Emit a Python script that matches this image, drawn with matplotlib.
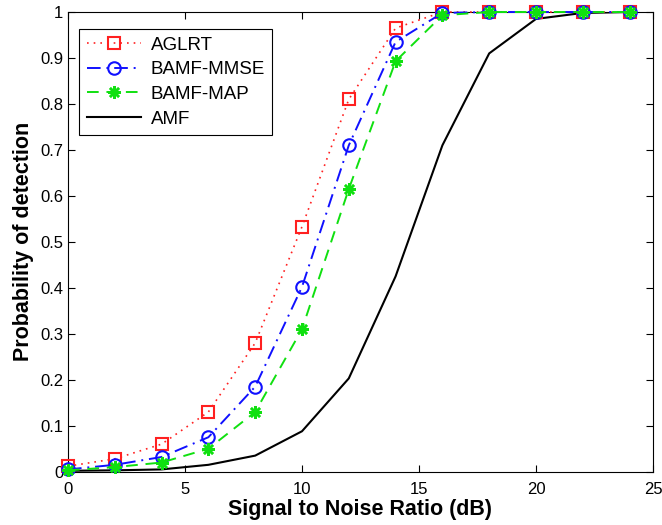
import matplotlib
matplotlib.use("Agg")
import matplotlib.pyplot as plt

snr = [0, 2, 4, 6, 8, 10, 12, 14, 16, 18, 20, 22, 24]
aglrt = [0.012, 0.028, 0.060, 0.130, 0.280, 0.533, 0.810, 0.965, 1.0, 1.0, 1.0, 1.0, 1.0]
mmse = [0.005, 0.015, 0.032, 0.075, 0.185, 0.402, 0.710, 0.935, 0.998, 1.0, 1.0, 1.0, 1.0]
mapv = [0.003, 0.010, 0.020, 0.050, 0.130, 0.310, 0.615, 0.893, 0.993, 1.0, 1.0, 1.0, 1.0]
amf = [0.002, 0.003, 0.005, 0.015, 0.035, 0.088, 0.203, 0.425, 0.710, 0.910, 0.985, 0.998, 1.0]

plt.rcParams['font.family'] = ['Liberation Sans', 'DejaVu Sans']
fig = plt.figure(figsize=(6.62, 5.25), dpi=100)
ax = fig.add_axes([0.1027, 0.1015, 0.8837, 0.8756])

ax.plot(snr, aglrt, color='#ff2020', linestyle=(0, (1, 3)), lw=1.2, marker='s', ms=8,
        mfc='none', mec='#ff2020', mew=1.5, label='AGLRT', clip_on=False, zorder=3)
ax.plot(snr, mmse, color='#1010ff', linestyle=(0, (7, 3, 1, 3)), lw=1.4, marker='o', ms=9,
        mfc='none', mec='#1010ff', mew=1.5, label='BAMF-MMSE', clip_on=False, zorder=4)
ax.plot(snr, mapv, color='#10e010', linestyle=(0, (6, 4)), lw=1.4, marker=(8, 2, 0), ms=9,
        mfc='#10e010', mec='#10e010', mew=1.8, label='BAMF-MAP', clip_on=False, zorder=5)
ax.plot(snr, amf, color='black', lw=1.5, label='AMF', zorder=2)

ax.set_xlim(0, 25)
ax.set_ylim(0, 1)
ax.set_xticks([0, 5, 10, 15, 20, 25])
ax.set_yticks([0, 0.1, 0.2, 0.3, 0.4, 0.5, 0.6, 0.7, 0.8, 0.9, 1])
ax.set_yticklabels(['0', '0.1', '0.2', '0.3', '0.4', '0.5', '0.6', '0.7', '0.8', '0.9', '1'])
ax.tick_params(direction='in', top=True, right=True, labelsize=12, length=5)
ax.tick_params(axis='x', pad=7.5)
ax.set_xlabel('Signal to Noise Ratio (dB)', fontsize=15.5, fontweight='bold', labelpad=1)
ax.set_ylabel('Probability of detection', fontsize=15.5, fontweight='bold', labelpad=4)

leg = ax.legend(loc='upper left', bbox_to_anchor=(0.0193, 0.963), fontsize=13.5, fancybox=False,
                edgecolor='black', framealpha=1, handlelength=2.9, borderpad=0.4,
                labelspacing=0.4, handletextpad=0.5, borderaxespad=0)
leg.get_frame().set_linewidth(0.8)

fig.savefig('out.png', dpi=100)
